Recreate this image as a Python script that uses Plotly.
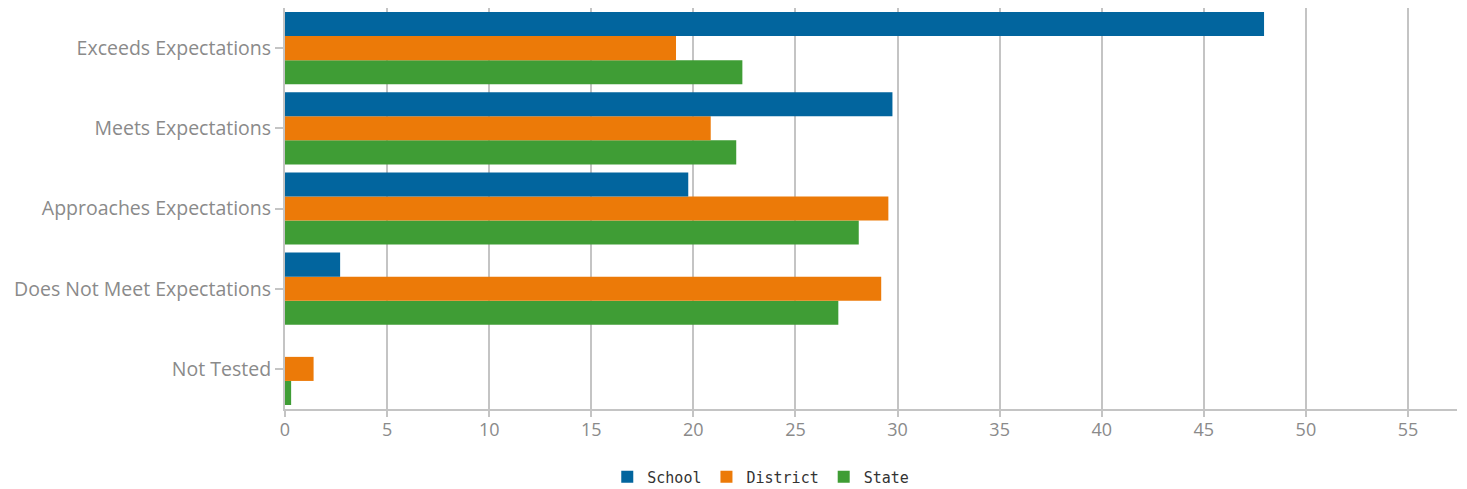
import plotly.graph_objects as go

categories = ["Exceeds Expectations", "Meets Expectations", "Approaches Expectations",
              "Does Not Meet Expectations", "Not Tested"]
school = [47.95, 29.75, 19.75, 2.7, 0.0]
district = [19.15, 20.85, 29.55, 29.2, 1.4]
state = [22.4, 22.1, 28.1, 27.1, 0.3]
x_ticks = [0, 5, 10, 15, 20, 25, 30, 35, 40, 45, 50, 55]

series = [("School", school, "#02659E"),
          ("District", district, "#EC7A08"),
          ("State", state, "#3F9D35")]

fig = go.Figure()
# horizontal grouped bars stack first trace at the bottom, so add in reverse
for name, vals, col in series[::-1]:
    fig.add_trace(go.Bar(y=categories, x=vals, name=name, orientation="h",
                         marker=dict(color=col, line=dict(width=0))))

# the page body adds an 8px offset; margins compensate
fig.update_layout(
    width=1467, height=489,
    margin=dict(l=277, r=18, t=0, b=88, autoexpand=False),
    barmode="group", bargap=0.1, bargroupgap=0,
    plot_bgcolor="white", paper_bgcolor="white",
    font=dict(family="Open Sans", color="#888888", size=18),
    xaxis=dict(range=[0, 57.4], tickvals=x_ticks, showgrid=True, gridcolor="#C4C4C4",
               gridwidth=2, showline=True, linecolor="#C4C4C4", linewidth=2,
               ticks="outside", ticklen=6, tickcolor="#C4C4C4", tickwidth=2,
               zeroline=False, automargin=False, ticklabelstandoff=-3,
               tickfont=dict(size=18, color="#8A8A8A")),
    yaxis=dict(categoryorder="array", categoryarray=categories[::-1],
               showline=True, linecolor="#C4C4C4", linewidth=2, ticks="outside",
               ticklen=8, tickcolor="#C4C4C4", tickwidth=2, showgrid=False,
               automargin=False,
               tickfont=dict(size=19.5, color="#8A8A8A")),
    legend=dict(orientation="h", xref="container", yref="container",
                x=0.4085, xanchor="left", y=(489 - 469) / 489, yanchor="middle",
                font=dict(family="DejaVu Sans Mono", size=15, color="#333333"),
                itemwidth=30, traceorder="reversed"),
)

fig.write_html("out.html")
